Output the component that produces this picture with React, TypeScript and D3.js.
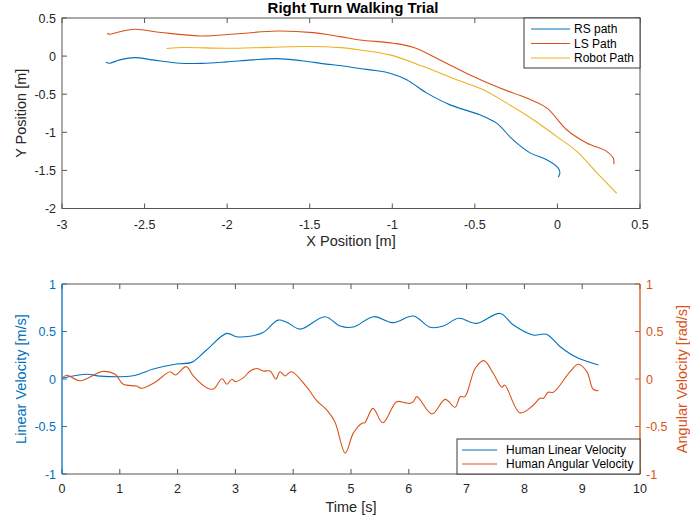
import React from "react";
import * as d3 from "d3";

// ---------- Top plot data ----------
const rsX = [-2.734, -2.714, -2.65, -2.558, -2.45, -2.285, -2.15, -2.003, -1.85, -1.70, -1.55, -1.40, -1.317, -1.196, -1.10, -1.014, -0.913, -0.79, -0.65, -0.47, -0.368, -0.27, -0.166, -0.065, 0.005, 0.015, 0.005];
const rsY = [-0.08, -0.093, -0.05, -0.02, -0.05, -0.093, -0.095, -0.076, -0.05, -0.033, -0.06, -0.105, -0.124, -0.163, -0.19, -0.224, -0.31, -0.486, -0.64, -0.77, -0.88, -1.097, -1.27, -1.36, -1.47, -1.53, -1.59];
const lsX = [-2.726, -2.714, -2.65, -2.558, -2.40, -2.164, -1.95, -1.70, -1.478, -1.317, -1.196, -0.994, -0.874, -0.711, -0.509, -0.348, -0.186, -0.065, 0.056, 0.177, 0.298, 0.338, 0.342];
const lsY = [0.30, 0.287, 0.32, 0.352, 0.31, 0.264, 0.29, 0.33, 0.308, 0.256, 0.212, 0.169, 0.116, -0.05, -0.268, -0.42, -0.55, -0.68, -0.966, -1.14, -1.25, -1.337, -1.42];
const robotX = [-2.366, -2.265, -2.003, -1.75, -1.50, -1.317, -1.196, -1.014, -0.812, -0.61, -0.449, -0.307, -0.146, -0.005, 0.117, 0.238, 0.359];
const robotY = [0.10, 0.112, 0.103, 0.115, 0.125, 0.111, 0.081, 0.016, -0.137, -0.31, -0.44, -0.617, -0.835, -1.054, -1.25, -1.53, -1.80];
const topXTicks = [-3, -2.5, -2, -1.5, -1, -0.5, 0, 0.5];
const topYTicks = [0.5, 0, -0.5, -1, -1.5, -2];
const topLegend = ["RS path", "LS Path", "Robot Path"];

// ---------- Bottom plot data ----------
const linT = [0, 0.43, 0.66, 1.23, 1.58, 1.98, 2.24, 2.50, 2.85, 3.02, 3.25, 3.48, 3.74, 3.89, 4.12, 4.55, 4.81, 5.04, 5.39, 5.73, 6.08, 6.37, 6.60, 6.86, 7.17, 7.58, 7.81, 8.15, 8.38, 8.62, 8.90, 9.28];
const linV = [0.007, 0.05, 0.03, 0.035, 0.105, 0.158, 0.175, 0.305, 0.48, 0.445, 0.45, 0.49, 0.62, 0.597, 0.525, 0.656, 0.558, 0.547, 0.656, 0.593, 0.663, 0.544, 0.558, 0.639, 0.586, 0.69, 0.568, 0.463, 0.47, 0.34, 0.228, 0.147];
const angT = [0, 0.08, 0.31, 0.71, 0.92, 1.06, 1.29, 1.38, 1.61, 1.87, 1.96, 2.15, 2.27, 2.50, 2.62, 2.77, 2.85, 2.94, 3.0, 3.14, 3.25, 3.37, 3.48, 3.60, 3.70, 3.77, 3.86, 3.97, 4.23, 4.41, 4.58, 4.72, 4.90, 5.04, 5.19, 5.24, 5.38, 5.55, 5.79, 5.93, 6.02, 6.08, 6.14, 6.40, 6.63, 6.80, 6.89, 6.97, 7.15, 7.30, 7.46, 7.61, 7.66, 7.92, 8.13, 8.27, 8.33, 8.41, 8.50, 8.79, 8.93, 9.08, 9.19, 9.28];
const angW = [0.007, 0.04, -0.018, 0.08, 0.05, -0.056, -0.074, -0.098, -0.035, 0.077, 0.042, 0.13, 0.032, -0.091, -0.105, 0.003, -0.056, -0.003, -0.028, 0.014, 0.081, 0.11, 0.084, 0.084, 0, 0.077, 0.032, 0.077, -0.081, -0.23, -0.326, -0.45, -0.78, -0.57, -0.466, -0.46, -0.309, -0.46, -0.239, -0.249, -0.256, -0.239, -0.186, -0.368, -0.214, -0.298, -0.186, -0.186, 0.113, 0.193, 0.06, -0.087, -0.063, -0.355, -0.29, -0.203, -0.203, -0.14, -0.14, 0.077, 0.155, 0.077, -0.108, -0.123];
const botXTicks = [0, 1, 2, 3, 4, 5, 6, 7, 8, 9, 10];
const botYTicks = [1, 0.5, 0, -0.5, -1];
const botLegend = ["Human Linear Velocity", "Human Angular Velocity"];

const C1 = "#0072BD";
const C2 = "#D95319";
const C3 = "#EDB120";
const AX = "#262626";
const AXL = "#555555";
const FONT = "'Liberation Sans', Arial, Helvetica, sans-serif";

const fmt = (v: number) => (v === 0 ? "0" : String(v));

export default function App() {
  const L = 62, R = 640;
  const tT = 18, tB = 208.5;
  const bT = 284, bB = 474;
  const tick = 5;

  const xTop = d3.scaleLinear().domain([-3, 0.5]).range([L, R]);
  const yTop = d3.scaleLinear().domain([-2, 0.5]).range([tB, tT]);
  const xBot = d3.scaleLinear().domain([0, 10]).range([L, R]);
  const yBotL = d3.scaleLinear().domain([-1, 1]).range([bB, bT]);
  const yBotR = d3.scaleLinear().domain([-1, 1]).range([bB, bT]);

  const pathLine = d3.line<[number, number]>()
    .x((d) => xTop(d[0]))
    .y((d) => yTop(d[1]))
    .curve(d3.curveCatmullRom.alpha(0.5));
  const linLine = d3.line<[number, number]>()
    .x((d) => xBot(d[0]))
    .y((d) => yBotL(d[1]))
    .curve(d3.curveCatmullRom.alpha(0.5));
  const angLine = d3.line<[number, number]>()
    .x((d) => xBot(d[0]))
    .y((d) => yBotR(d[1]))
    .curve(d3.curveCatmullRom.alpha(0.5));

  const zip = (a: number[], b: number[]) => a.map((v, i) => [v, b[i]] as [number, number]);
  const topSeries = [
    { d: zip(rsX, rsY), c: C1 },
    { d: zip(lsX, lsY), c: C2 },
    { d: zip(robotX, robotY), c: C3 },
  ];

  return (
    <svg width={690} height={525} style={{ display: "block", position: "absolute", left: 0, top: 0 }} fontFamily={FONT}>
      <rect x={0} y={0} width={690} height={525} fill="#fff" />
      {/* ================= TOP ================= */}
      <text x={(L + R) / 2 + 2} y={13} textAnchor="middle" fontSize={15} fontWeight="bold" fill="#000">Right Turn Walking Trial</text>
      <rect x={L} y={tT} width={R - L} height={tB - tT} fill="#fff" stroke={AXL} strokeWidth={1} />
      {topXTicks.map((v) => (
        <g key={"tx" + v}>
          <line x1={xTop(v)} x2={xTop(v)} y1={tB} y2={tB - tick} stroke={AXL} strokeWidth={1} />
          <line x1={xTop(v)} x2={xTop(v)} y1={tT} y2={tT + tick} stroke={AXL} strokeWidth={1} />
          <text x={xTop(v)} y={tB + 20} textAnchor="middle" fontSize={12.5} fill={AX}>{fmt(v)}</text>
        </g>
      ))}
      {topYTicks.map((v) => (
        <g key={"ty" + v}>
          <line x1={L} x2={L + tick} y1={yTop(v)} y2={yTop(v)} stroke={AXL} strokeWidth={1} />
          <line x1={R} x2={R - tick} y1={yTop(v)} y2={yTop(v)} stroke={AXL} strokeWidth={1} />
          <text x={L - 6} y={yTop(v) + 4.5} textAnchor="end" fontSize={12.5} fill={AX}>{fmt(v)}</text>
        </g>
      ))}
      <text x={(L + R) / 2} y={246} textAnchor="middle" fontSize={14.5} fill={AX}>X Position [m]</text>
      <text transform={`translate(26,${(tT + tB) / 2}) rotate(-90)`} textAnchor="middle" fontSize={14.5} fill={AX}>Y Position [m]</text>
      {topSeries.map((s, i) => (
        <path key={"ts" + i} d={pathLine(s.d) || ""} fill="none" stroke={s.c} strokeWidth={1.1} />
      ))}
      {/* top legend */}
      <rect x={524} y={tT} width={R - 524} height={50} fill="#fff" stroke={AX} strokeWidth={0.9} />
      {topLegend.map((name, i) => {
        const y = 29 + i * 14.5;
        return (
          <g key={"tl" + i}>
            <line x1={531} x2={570} y1={y} y2={y} stroke={[C1, C2, C3][i]} strokeWidth={1.1} />
            <text x={574} y={y + 4.3} fontSize={12} fill="#000">{name}</text>
          </g>
        );
      })}

      {/* ================= BOTTOM ================= */}
      <rect x={L} y={bT} width={R - L} height={bB - bT} fill="#fff" stroke="none" />
      <line x1={L} x2={R} y1={bT} y2={bT} stroke={AXL} strokeWidth={1} />
      <line x1={L} x2={R} y1={bB} y2={bB} stroke={AXL} strokeWidth={1} />
      {botXTicks.map((v) => (
        <g key={"bx" + v}>
          <line x1={xBot(v)} x2={xBot(v)} y1={bB} y2={bB - tick} stroke={AXL} strokeWidth={1} />
          <line x1={xBot(v)} x2={xBot(v)} y1={bT} y2={bT + tick} stroke={AXL} strokeWidth={1} />
          <text x={xBot(v)} y={bB + 19} textAnchor="middle" fontSize={12.5} fill={AX}>{fmt(v)}</text>
        </g>
      ))}
      <line x1={L} x2={L} y1={bT} y2={bB} stroke={C1} strokeWidth={1.3} />
      <line x1={R} x2={R} y1={bT} y2={bB} stroke={C2} strokeWidth={1.3} />
      {botYTicks.map((v) => (
        <g key={"by" + v}>
          <line x1={L} x2={L + tick} y1={yBotL(v)} y2={yBotL(v)} stroke={C1} strokeWidth={0.9} />
          <text x={L - 6} y={yBotL(v) + 4.5} textAnchor="end" fontSize={12.5} fill={C1}>{fmt(v)}</text>
          <line x1={R} x2={R - tick} y1={yBotR(v)} y2={yBotR(v)} stroke={C2} strokeWidth={0.9} />
          <text x={R + 6} y={yBotR(v) + 4.5} textAnchor="start" fontSize={12.5} fill={C2}>{fmt(v)}</text>
        </g>
      ))}
      <text x={(L + R) / 2} y={512} textAnchor="middle" fontSize={14.5} fill={AX}>Time [s]</text>
      <text transform={`translate(26,${(bT + bB) / 2}) rotate(-90)`} textAnchor="middle" fontSize={14.5} fill={C1}>Linear Velocity [m/s]</text>
      <text transform={`translate(687,${(bT + bB) / 2}) rotate(-90)`} textAnchor="middle" fontSize={14.5} fill={C2}>Angular Velocity [rad/s]</text>
      <path d={linLine(zip(linT, linV)) || ""} fill="none" stroke={C1} strokeWidth={1.1} />
      <path d={angLine(zip(angT, angW)) || ""} fill="none" stroke={C2} strokeWidth={1.1} />
      {/* bottom legend */}
      <rect x={457} y={439} width={R - 457} height={bB - 439} fill="#fff" stroke={AX} strokeWidth={0.9} />
      {botLegend.map((name, i) => {
        const y = 450 + i * 14;
        return (
          <g key={"bl" + i}>
            <line x1={462} x2={497} y1={y} y2={y} stroke={[C1, C2][i]} strokeWidth={1.1} />
            <text x={506} y={y + 4.3} fontSize={12} fill="#000">{name}</text>
          </g>
        );
      })}
    </svg>
  );
}
